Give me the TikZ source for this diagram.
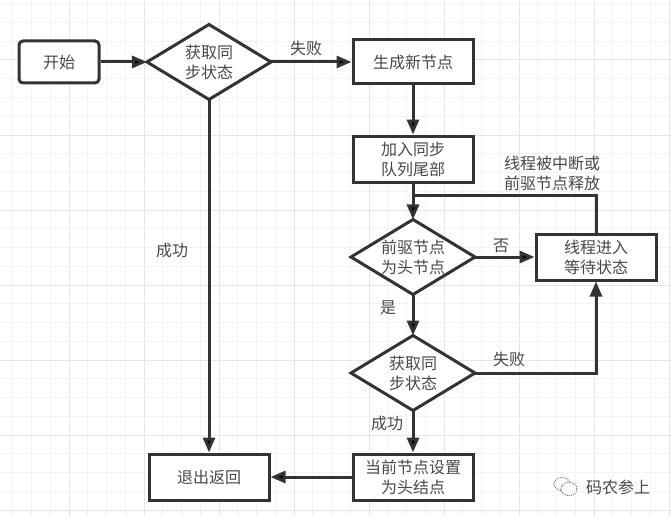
\documentclass[tikz,border=0pt]{standalone}
\usepackage{fontspec}
\newfontfamily\cjk{Noto Sans CJK SC}
\usetikzlibrary{shapes.geometric,arrows.meta}
\definecolor{ink}{HTML}{333333}
\definecolor{txt}{HTML}{484848}
\definecolor{gridminor}{HTML}{F3F3F3}
\definecolor{gridmajor}{HTML}{E6E6E6}
\begin{document}
\begin{tikzpicture}[x=1pt,y=-1pt,
  flow/.style={draw=ink,line width=3pt},
  box node/.style={rectangle,flow,fill=white,minimum width=120pt,minimum height=46pt,inner sep=0pt,
    align=center,text=txt,font=\cjk\fontsize{16}{20}\selectfont},
  round node/.style={box node,rounded corners=4pt,minimum width=80pt,minimum height=42pt},
  test node/.style={diamond,flow,fill=white,aspect=1.64,minimum width=124pt,minimum height=75pt,inner sep=0pt,
    outer sep=0pt,align=center,text=txt,font=\cjk\fontsize{16}{20}\selectfont},
  tag node/.style={text=txt,inner sep=0pt,font=\cjk\fontsize{16}{20}\selectfont,align=center}]

  \useasboundingbox (0,0) rectangle (671,516);
  \fill[white] (0,0) rectangle (671,516);

  % grid
  \foreach \x in {0,...,35} \draw[gridminor,line width=1pt] (12.75+18.75*\x,0) -- (12.75+18.75*\x,516);
  \foreach \y in {0,...,27} \draw[gridminor,line width=1pt] (0,3.75+18.75*\y) -- (671,3.75+18.75*\y);
  \foreach \x in {0,...,8} \draw[gridmajor,line width=1pt] (69+75*\x,0) -- (69+75*\x,516);
  \foreach \y in {0,...,6} \draw[gridmajor,line width=1pt] (0,60+75*\y) -- (671,60+75*\y);

  \node[round node] (start) at (59,62) {开始};
  \node[test node] (sync1) at (209,62) {获取同\\步状态};
  \node[box node,minimum height=44pt] (create) at (413,62) {生成新节点};
  \node[box node] (enqueue) at (413,159) {加入同步\\队列尾部};
  \node[test node] (prev) at (413,257) {前驱节点\\为头节点};
  \node[box node] (wait) at (596,257) {线程进入\\等待状态};
  \node[test node] (sync2) at (413,373) {获取同\\步状态};
  \node[box node] (sethead) at (413,477) {当前节点设置\\为头结点};
  \node[box node] (finish) at (209,477) {退出返回};
  \coordinate (merge) at (413,195);

  \path[flow,-{Triangle[length=15pt,width=12pt]}]
   (start) edge (sync1)
   (sync1) edge (create)
   (sync1) edge (finish)
   (create) edge (enqueue)
   (enqueue) edge (prev)
   (prev) edge (wait)
   (prev) edge (sync2)
   (sync2) edge (sethead)
   (sethead) edge (finish);
  \draw[flow,-{Triangle[length=15pt,width=12pt]}] (sync2.east) -| (wait.south);
  \draw[flow] (wait.north) |- (merge);

  \node[tag node] (fail1) at (306,48) {失败};
  \node[tag node] (ok1) at (172,250) {成功};
  \node[tag node] (wake) at (552,173) {线程被中断或\\前驱节点释放};
  \node[tag node] (no) at (501,246) {否};
  \node[tag node] (yes) at (388,308) {是};
  \node[tag node] (fail2) at (509,359) {失败};
  \node[tag node] (ok2) at (387,423) {成功};

  % watermark
  \draw[gridmajor!40!ink,line width=1pt,densely dotted] (562,484) ellipse (8pt and 6.5pt);
  \draw[gridmajor!40!ink,line width=1pt,densely dotted,fill=white] (569,489) ellipse (8pt and 6.5pt);
  \node[tag node] (mark) at (618,487) {码农参上};
\end{tikzpicture}
\end{document}
